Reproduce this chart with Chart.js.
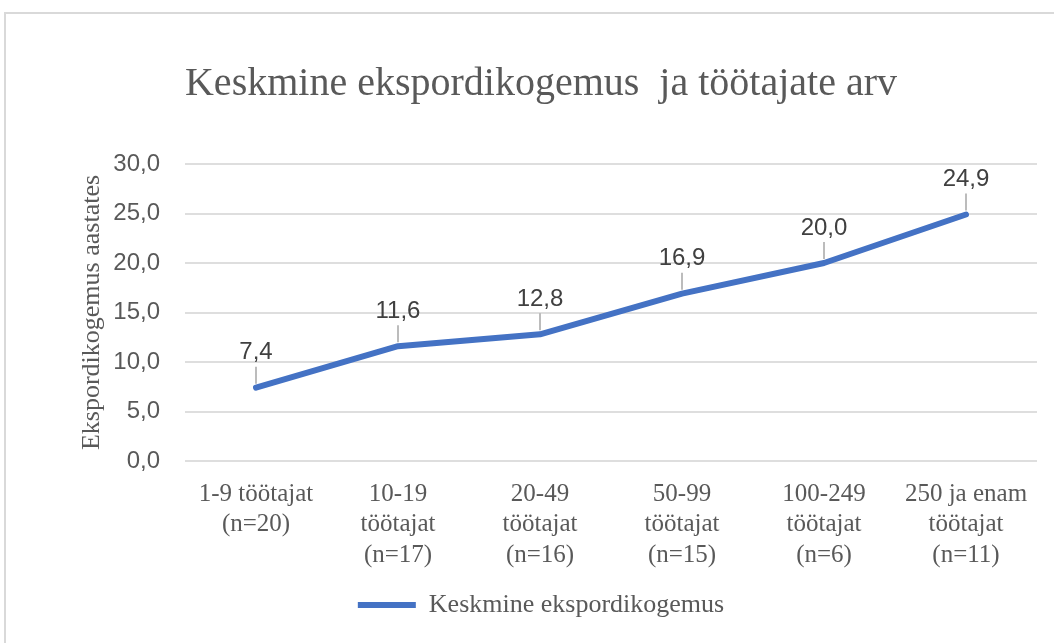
<!DOCTYPE html>
<html>
<head>
<meta charset="utf-8">
<script src="https://cdn.jsdelivr.net/npm/chart.js@4/dist/chart.umd.min.js"></script>
<style>
  html, body { margin: 0; padding: 0; background: #ffffff; }
  #wrap { width: 1054px; height: 643px; }
</style>
</head>
<body>
<div id="wrap"><canvas id="myChart" width="1054" height="643"></canvas></div>
<script>
// data
var categories = [
    ['1-9 töötajat', '(n=20)'],
    ['10-19', 'töötajat', '(n=17)'],
    ['20-49', 'töötajat', '(n=16)'],
    ['50-99', 'töötajat', '(n=15)'],
    ['100-249', 'töötajat', '(n=6)'],
    ['250 ja enam', 'töötajat', '(n=11)']
];
var avgExperience = [7.4, 11.6, 12.8, 16.9, 20.0, 24.9];
var seriesName = 'Keskmine ekspordikogemus';
var chartTitle = 'Keskmine ekspordikogemus  ja töötajate arv';
var yTitle = 'Ekspordikogemus aastates';
var yMin = 0;
var yMax = 30;
var yStep = 5;

var blue = '#4472C4';
var grey = '#595959';

function fmt(v) {
    return v.toFixed(1).replace('.', ',');
}

// outer frame of the chart
var framePlugin = {
    id: 'frame',
    beforeDraw: function(chart) {
        var ctx = chart.ctx;
        ctx.save();
        ctx.fillStyle = '#ffffff';
        ctx.fillRect(0, 0, chart.width, chart.height);
        ctx.strokeStyle = '#d9d9d9';
        ctx.lineWidth = 2;
        ctx.strokeRect(5, 13, chart.width + 50, chart.height + 50);
        ctx.restore();
    }
};

// value labels above the points, with small leader lines
var labelPlugin = {
    id: 'valueLabels',
    afterDatasetsDraw: function(chart) {
        var ctx = chart.ctx;
        var meta = chart.getDatasetMeta(0);
        var data = chart.data.datasets[0].data;
        ctx.save();
        ctx.font = '24px "Liberation Sans", Arial, sans-serif';
        ctx.textAlign = 'center';
        ctx.textBaseline = 'middle';
        for (var i = 0; i < meta.data.length; i++) {
            var p = meta.data[i];
            var ly = p.y - 35;
            ctx.strokeStyle = '#a6a6a6';
            ctx.lineWidth = 1.5;
            ctx.beginPath();
            ctx.moveTo(p.x, p.y - 4);
            ctx.lineTo(p.x, ly + 14);
            ctx.stroke();
            ctx.fillStyle = '#404040';
            ctx.fillText(fmt(data[i]), p.x, ly);
        }
        ctx.restore();
    }
};

window.onload = () => {
    var ctx = document.getElementById('myChart').getContext('2d');
    var myChart = new Chart(ctx, {
        type: 'line',
        data: {
            labels: categories,
            datasets: [{
                label: seriesName,
                data: avgExperience,
                borderColor: blue,
                backgroundColor: blue,
                borderWidth: 6,
                borderCapStyle: 'round',
                borderJoinStyle: 'round',
                pointRadius: 0,
                pointHoverRadius: 0,
                tension: 0,
                fill: false
            }]
        },
        options: {
            responsive: false,
            animation: false,
            events: [],
            layout: {
                padding: { left: 45, right: 17, top: 0, bottom: 15 }
            },
            plugins: {
                title: {
                    display: true,
                    text: chartTitle,
                    color: grey,
                    font: { family: '"Liberation Serif", "Times New Roman", serif', size: 40, weight: 'normal', lineHeight: 1.2 },
                    padding: { top: 60, bottom: 56 }
                },
                legend: {
                    display: true,
                    position: 'bottom',
                    labels: {
                        color: grey,
                        font: { family: '"Liberation Serif", "Times New Roman", serif', size: 26 },
                        usePointStyle: true,
                        pointStyle: 'line',
                        pointStyleWidth: 58,
                        padding: 10
                    }
                },
                tooltip: { enabled: false }
            },
            scales: {
                x: {
                    offset: true,
                    grid: { display: false, drawTicks: false },
                    border: { display: false },
                    ticks: {
                        color: grey,
                        font: { family: '"Liberation Serif", "Times New Roman", serif', size: 25, lineHeight: 1.22 },
                        padding: 18,
                        autoSkip: false,
                        maxRotation: 0,
                        minRotation: 0
                    },
                    afterFit: function(scale) { scale.height = 121; }
                },
                y: {
                    min: yMin,
                    max: yMax,
                    grid: { color: '#dedede', lineWidth: 2, drawTicks: false },
                    border: { display: false },
                    ticks: {
                        stepSize: yStep,
                        color: grey,
                        padding: 25,
                        font: { family: '"Liberation Sans", Arial, sans-serif', size: 24 },
                        callback: function(v) { return fmt(v); }
                    },
                    title: {
                        display: true,
                        text: yTitle,
                        color: grey,
                        font: { family: '"Liberation Serif", "Times New Roman", serif', size: 26, lineHeight: 1.2 },
                        padding: { top: 32, bottom: 0 }
                    },
                    afterFit: function(scale) { scale.width = 140; }
                }
            }
        },
        plugins: [framePlugin, labelPlugin]
    });
}
</script>
</body>
</html>
